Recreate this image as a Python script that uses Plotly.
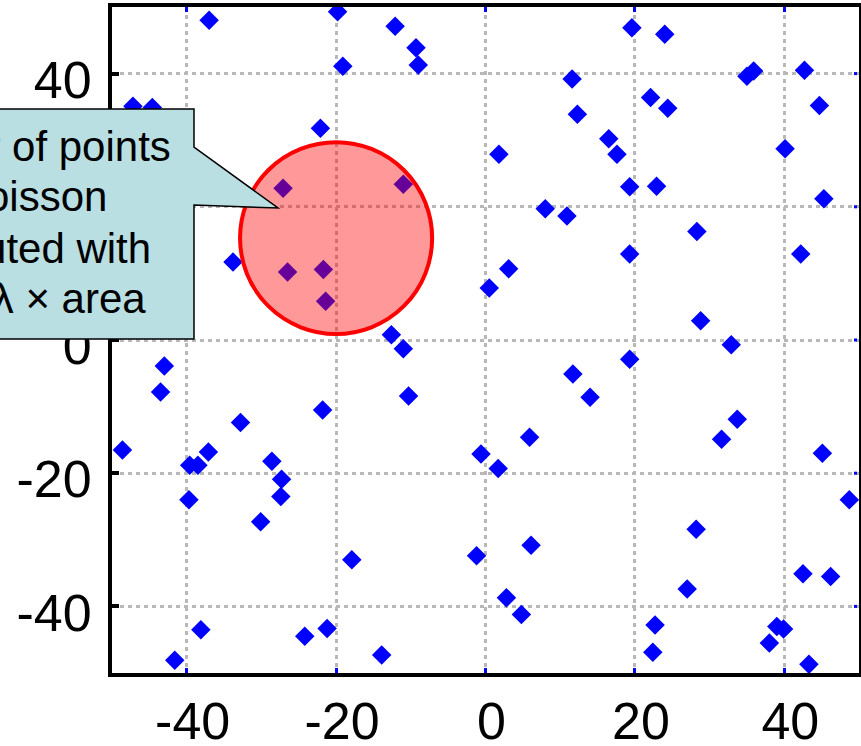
import plotly.graph_objects as go

# Point locations of the simulated pattern (x, y)
pts_x = [-37.0, -19.8, -19.1, -47.2, -44.6, -22.1, -27.1, -33.8, -26.5, -21.7,
         -21.4, -12.1, -9.3, -9.0, 11.6, 12.3, 16.5, 17.6, 1.8, -11.0,
         8.0, 10.9, 3.1, 0.5, -12.6, -11.0, 19.6, 24.0, 35.0, 35.9,
         42.7, 22.1, 24.4, 44.7, 40.1, 19.3, 22.9, 45.3, 28.3, 19.3,
         42.2, 28.8, 32.9, 19.3, 33.7, 31.6, 45.1, 48.7, 28.2, 27.0,
         42.5, 46.2, 22.7, 22.4, 39.0, 39.9, 38.0, 43.3, 11.7, 14.0,
         -10.3, 5.9, -0.6, 1.7, 6.1, -1.2, 2.8, 4.8, -13.9, -43.0,
         -43.5, -48.6, -32.8, -21.8, -37.1, -39.6, -38.5, -39.7, -28.6, -27.3,
         -27.4, -30.1, -17.9, -38.1, -41.6, -24.2, -21.2]
pts_y = [48.0, 49.3, 41.1, 35.1, 34.9, 31.8, 22.8, 11.7, 10.2, 10.6,
         5.8, 47.1, 43.9, 41.3, 39.2, 33.9, 30.2, 27.9, 27.9, 23.4,
         19.7, 18.6, 10.7, 7.8, 0.8, -1.3, 46.9, 45.9, 39.6, 40.4,
         40.5, 36.4, 34.8, 35.2, 28.7, 23.0, 23.1, 21.2, 16.3, 12.9,
         12.9, 2.9, -0.7, -2.9, -11.9, -14.9, -17.0, -24.0, -28.4, -37.4,
         -35.1, -35.5, -42.8, -46.9, -43.0, -43.4, -45.5, -48.7, -5.1, -8.6,
         -8.4, -14.6, -17.1, -19.3, -30.8, -32.4, -38.7, -41.2, -47.3, -3.9,
         -7.8, -16.5, -12.4, -10.5, -16.8, -18.8, -18.8, -24.0, -18.2, -20.9,
         -23.5, -27.3, -33.0, -43.5, -48.1, -44.5, -43.3]

tick_vals = [-40, -20, 0, 20, 40]
tick_text = ["-40", "-20", "0", "20", "40"]

# Sampling disc
disc_center = (-20.0, 15.3)
disc_radius = (12.86, 14.4)

callout_lines = ["Number of points", "is Poisson", "distributed with", "mean λ × area"]

W, H = 861, 746
ML, MR, MT, MB = 112, 2, 7, 73
PW, PH = W - ML - MR, H - MT - MB


def px(x):
    return (x - ML) / PW


def py(y):
    return (H - MB - y) / PH


FONT = "Liberation Sans, Arial, sans-serif"

fig = go.Figure()
fig.add_trace(go.Scatter(
    x=pts_x, y=pts_y, mode="markers",
    marker=dict(symbol="diamond", size=15, color="#0000ff", line=dict(width=0)),
    showlegend=False, hoverinfo="skip",
))

axis_common = dict(
    range=[-50, 50], tickmode="array", tickvals=tick_vals, ticktext=tick_text,
    showgrid=True, gridcolor="#b8b8b8", gridwidth=3, griddash="4px,4px",
    zeroline=False, showline=True, linecolor="black", linewidth=4,
    ticks="inside", tickfont=dict(family=FONT, size=52, color="black"),
    automargin=False,
)

fig.update_layout(
    width=W, height=H,
    margin=dict(l=ML, r=MR, t=MT, b=MB, pad=0, autoexpand=False),
    paper_bgcolor="white", plot_bgcolor="white",
    xaxis=dict(**axis_common, mirror="allticks", ticklen=5, tickwidth=3,
               tickcolor="#0000ff", ticklabelshift=6, ticklabelstandoff=0),
    yaxis=dict(**axis_common, mirror=True, ticklen=7, tickwidth=4,
               tickcolor="black", ticklabelshift=6, ticklabelstandoff=6),
)

shapes = []
# small blue tick marks along the right-hand frame
for v in tick_vals:
    shapes.append(dict(type="line", xref="paper", yref="y", xsizemode="pixel",
                       xanchor=1, x0=-5, x1=-2, y0=v, y1=v,
                       line=dict(color="#0000ff", width=3), layer="above"))

cx, cy = disc_center
rx, ry = disc_radius
shapes.append(dict(type="circle", xref="x", yref="y",
                   x0=cx - rx, x1=cx + rx, y0=cy - ry, y1=cy + ry,
                   fillcolor="rgba(255,0,0,0.4)", line=dict(color="#ff0000", width=4),
                   layer="above"))

# speech-bubble callout (pixel outline converted to paper coordinates)
bubble = [(-180, 109), (194, 109), (194, 147), (278, 208), (194, 205), (194, 339), (-180, 339)]
path = "M " + " L ".join(f"{px(a):.5f},{py(b):.5f}" for a, b in bubble) + " Z"
shapes.append(dict(type="path", xref="paper", yref="paper", path=path,
                   fillcolor="#b9dfe3", line=dict(color="black", width=1.5),
                   layer="above"))
fig.update_layout(shapes=shapes)

baselines = [160.7, 210.7, 263.3, 313.3]
for text, base in zip(callout_lines, baselines):
    fig.add_annotation(text=text, xref="paper", yref="paper",
                       x=px(11), y=py(base - 14.6), xanchor="center", yanchor="middle",
                       showarrow=False, font=dict(family=FONT, size=42, color="black"))

fig.write_html("out.html")
